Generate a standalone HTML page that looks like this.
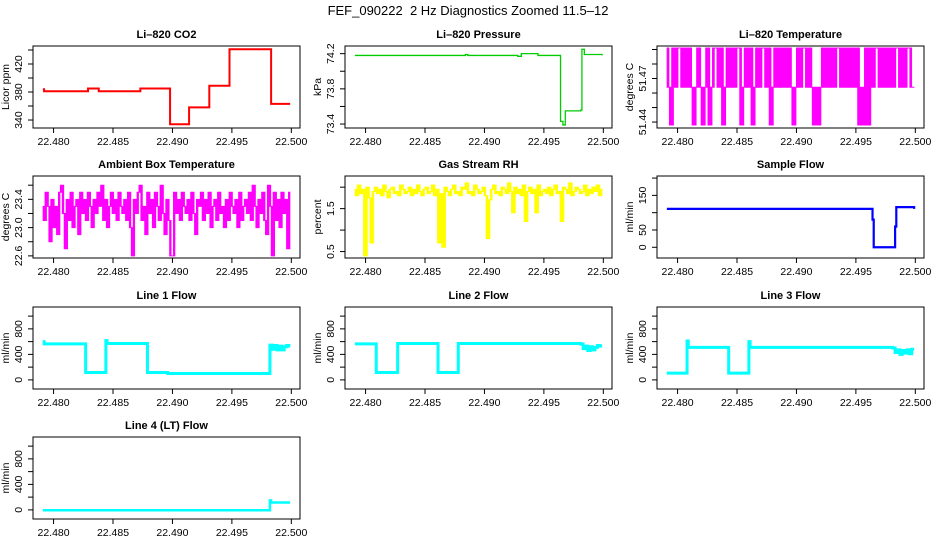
<!DOCTYPE html>
<html><head><meta charset="utf-8"><style>
body{margin:0;background:#fff;}
svg{display:block;font-family:"Liberation Sans",sans-serif;}
</style></head><body>
<svg id="c" width="936" height="540" viewBox="0 0 936 540">
<rect width="936" height="540" fill="#fff"/>
<text x="468" y="15" text-anchor="middle" font-size="13" style="white-space:pre">FEF_090222  2 Hz Diagnostics Zoomed 11.5–12</text>
</svg>
<script>
const xTicks=[22.480,22.485,22.490,22.495,22.500];
const xTickLabels=["22.480","22.485","22.490","22.495","22.500"];

const co2T=[22.4791,22.4792,22.4829,22.4838,22.4873,22.4898,22.4914,22.4931,22.4948,22.4983,22.4999];
const co2V=[384,381,385,381,385,334,358,389,441,363,363];

const presT=[22.4791,22.4884,22.4886,22.4920,22.4928,22.4931,22.4945,22.4964,22.4966,22.4968,22.4981,22.4982,22.4984,22.4999];
const presV=[74.18,74.19,74.18,74.18,74.17,74.20,74.18,73.43,73.39,73.55,73.56,74.25,74.19,74.18];

const tempV=[51.491,51.464,51.438,51.491,51.464,51.491,51.491,51.464,51.491,51.464,51.491,51.464,51.438,51.464,51.491,51.464,51.438,51.464,51.491,51.438,51.464,51.491,51.491,51.464,51.491,51.438,51.464,51.491,51.464,51.491,51.464,51.491,51.491,51.438,51.464,51.491,51.464,51.491,51.438,51.464,51.491,51.464,51.491,51.491,51.464,51.491,51.438,51.464,51.491,51.464,51.491,51.464,51.491,51.464,51.491,51.464,51.438,51.464,51.491,51.464,51.491,51.491,51.464,51.491,51.464,51.438,51.464,51.438,51.464,51.491,51.464,51.491,51.464,51.491,51.464,51.491,51.491,51.464,51.491,51.464,51.491,51.464,51.491,51.464,51.491,51.438,51.464,51.438,51.491,51.438,51.491,51.464,51.491,51.491,51.464,51.491,51.464,51.491,51.464,51.491,51.464,51.491,51.491,51.464,51.491,51.464,51.491,51.491,51.464,51.464];

const ambV=[23.3,23.1,23.5,23.3,22.8,23.4,23.0,23.3,22.9,23.5,23.6,23.2,22.7,23.4,23.1,23.5,23.0,23.3,23.4,22.9,23.5,23.2,23.4,23.1,23.5,23.3,23.0,23.4,23.2,23.5,23.3,23.6,23.1,23.4,23.0,23.3,23.5,23.2,23.4,23.1,23.5,23.3,23.2,23.4,23.1,23.5,23.0,22.6,23.4,23.2,23.5,23.6,23.1,23.3,22.9,23.5,23.2,23.4,23.0,23.5,23.3,23.1,23.6,23.2,22.9,23.4,23.1,22.6,22.6,23.5,23.2,23.4,23.1,23.5,23.3,23.2,23.4,23.1,23.5,23.2,22.9,23.4,23.3,23.5,23.1,23.4,23.2,23.5,23.0,23.3,23.4,23.1,23.5,23.2,23.3,23.0,23.4,23.1,23.5,23.3,23.2,23.4,23.0,23.5,23.1,23.3,23.4,23.2,23.5,23.1,23.6,23.3,23.0,23.4,23.2,23.5,23.1,22.9,23.6,23.3,22.6,23.5,23.1,23.4,23.0,23.5,23.2,23.4,22.7,23.5];

const rhV=[1.95,1.8,2.05,1.85,1.95,0.4,2.0,1.75,0.7,1.9,2.0,1.85,1.95,1.8,2.05,1.9,1.75,1.95,2.0,1.85,1.9,1.8,2.05,1.95,1.85,1.9,2.0,1.8,1.95,1.85,2.05,1.9,1.8,1.95,2.0,1.85,1.9,2.05,1.8,1.95,0.7,1.85,0.6,2.0,1.9,1.8,1.95,2.05,1.85,1.9,1.8,2.0,1.95,2.1,1.85,1.9,1.8,2.05,1.95,1.85,1.9,2.0,1.8,0.8,1.7,1.95,2.05,1.85,1.9,1.8,2.0,1.95,1.85,2.1,1.9,1.4,2.0,1.85,1.95,1.8,2.05,1.2,1.9,2.0,1.85,1.95,1.4,2.05,1.8,1.9,1.95,1.85,2.0,1.8,1.95,2.05,1.85,1.9,1.2,2.0,1.95,1.85,2.1,1.8,1.9,2.0,1.95,1.85,1.9,2.05,1.8,1.95,1.85,2.0,1.9,2.05,1.8,1.95];

const sfT=[22.4791,22.4964,22.4965,22.4982,22.4983,22.4984,22.4999];
const sfV=[111,80,0,0,60,116,111];

const l1T=[22.4791,22.4792,22.4827,22.4844,22.4845,22.4879,22.4896,22.4982,22.4984,22.4986,22.4988,22.4990,22.4992,22.4994,22.4996,22.4998,22.4999];
const l1V=[600,565,115,615,570,115,100,545,480,540,470,530,470,520,540,530,530];
const l2T=[22.4791,22.4809,22.4827,22.4861,22.4878,22.4981,22.4983,22.4985,22.4987,22.4989,22.4991,22.4993,22.4995,22.4997,22.4999];
const l2V=[565,115,570,115,570,560,490,530,460,520,470,510,540,530,530];
const l3T=[22.4791,22.4808,22.4809,22.4843,22.4860,22.4861,22.4981,22.4983,22.4985,22.4987,22.4989,22.4991,22.4993,22.4995,22.4997,22.4999];
const l3V=[105,610,510,105,600,510,500,430,470,400,460,420,470,410,480,480];
const l4T=[22.4791,22.4982,22.4983,22.4999];
const l4V=[-5,150,115,115];

const NS="http://www.w3.org/2000/svg";
const svg=document.getElementById('c');
const X0=22.47827,X1=22.50073,T0=22.4791,T1=22.4999;
const colLeft=[33,345,657],rowTop=[46,176,307,437],BW=267,BH=82;
function mk(tag,attrs,parent){const e=document.createElementNS(NS,tag);for(const k in attrs)e.setAttribute(k,attrs[k]);(parent||svg).appendChild(e);return e;}
function sx(c,t){return colLeft[c]+(t-X0)/(X1-X0)*BW;}
function sy(r,d,v){return rowTop[r]+BH-(v-d[0])/(d[1]-d[0])*BH;}

function panel(c,r,name,title,ylab,dom,yt,yl){
  const g=mk('g',{});
  
  
  const L=colLeft[c],T=rowTop[r];
  const tt=mk('text',{x:L+BW/2,y:T-8,'text-anchor':'middle','font-size':11,'font-weight':'bold'},g);tt.textContent=title;
  
  
  const bx=mk('rect',{x:L,y:T,width:BW,height:BH,fill:'none',stroke:'#000','stroke-width':1},g);
  
  
  xTicks.forEach((t,i)=>{const x=sx(c,t);
    mk('line',{x1:x,x2:x,y1:T+BH,y2:T+BH+5,stroke:'#000'},g);
    const tx=mk('text',{x:x,y:T+BH+17,'text-anchor':'middle','font-size':10.5},g);tx.textContent=xTickLabels[i];
    
    });
  yt.forEach((v,i)=>{const y=sy(r,dom,v);
    mk('line',{x1:L-5,x2:L,y1:y,y2:y,stroke:'#000'},g);
    if(yl[i]){const tx=mk('text',{x:0,y:0,'text-anchor':'middle','font-size':10.5,transform:`translate(${L-11},${y}) rotate(-90)`},g);tx.textContent=yl[i];
    
    }});
  const yt2=mk('text',{x:0,y:0,'text-anchor':'middle','font-size':10.5,transform:`translate(${L-24},${T+BH/2}) rotate(-90)`},g);yt2.textContent=ylab;
  
  
  return g;
}
function stepLine(c,r,dom,ts,vs,color,w,name,g){
  let d='';
  for(let i=0;i<ts.length;i++){const x=sx(c,ts[i]),y=sy(r,dom,vs[i]);
    if(i===0)d+=`M${x},${y}`;else{d+=`H${x}V${y}`;}}
  const p=mk('path',{d:d,fill:'none',stroke:color,'stroke-width':w},g);
  
  
}
function noiseLine(c,r,dom,vs,color,name,g){
  const n=vs.length;
  const dx=(sx(c,T1)-sx(c,T0))/(n-1);
  let d='';
  for(let i=1;i<n;i++){const t=T0+(T1-T0)*i/(n-1);const x=sx(c,t)-dx/2;
    const y1=sy(r,dom,vs[i-1]),y2=sy(r,dom,vs[i]);
    d+=`M${x},${Math.min(y1,y2)-0.5}V${Math.max(y1,y2)+0.5}`;}
  const p=mk('path',{d:d,fill:'none',stroke:color,'stroke-width':dx+0.4},g);
  
  
}
const lineDom=[-143,1143],lineTicks=[0,200,400,600,800,1000],lineLabels=["0","","400","","800",""];
let g;
g=panel(0,0,'co2','Li–820 CO2','Licor ppm',[328.6,445.7],[340,360,380,400,420,440],["340","","380","","420",""]);
stepLine(0,0,[328.6,445.7],co2T,co2V,'#ff0000',2,'co2-line',g);
g=panel(1,0,'pressure','Li–820 Pressure','kPa',[73.355,74.287],[73.4,73.6,73.8,74.0,74.2],["73.4","","73.8","","74.2"]);
stepLine(1,0,[73.355,74.287],presT,presV,'#00cc00',1.3,'pressure-line',g);
g=panel(2,0,'li820-temp','Li–820 Temperature','degrees C',[51.4359,51.4924],[51.44,51.45,51.46,51.47,51.48,51.49],["51.44","","","51.47","",""]);
noiseLine(2,0,[51.4359,51.4924],tempV,'#ff00ff','li820-temp-line',g);
g=panel(0,1,'ambient-temp','Ambient Box Temperature','degrees C',[22.57,23.73],[22.6,22.8,23.0,23.2,23.4,23.6],["22.6","","23.0","","23.4",""]);
noiseLine(0,1,[22.57,23.73],ambV,'#ff00ff','ambient-temp-line',g);
g=panel(1,1,'rh','Gas Stream RH','percent',[0.35,2.26],[0.5,1.0,1.5,2.0],["0.5","","1.5",""]);
noiseLine(1,1,[0.35,2.26],rhV,'#ffff00','rh-line',g);
g=panel(2,1,'sample-flow','Sample Flow','ml/min',[-31,206],[0,50,100,150,200],["0","50","","150",""]);
stepLine(2,1,[-31,206],sfT,sfV,'#0000ff',2.2,'sample-flow-line',g);
g=panel(0,2,'line1-flow','Line 1 Flow','ml/min',lineDom,lineTicks,lineLabels);
stepLine(0,2,lineDom,l1T,l1V,'#00ffff',3,'line1-flow-line',g);
g=panel(1,2,'line2-flow','Line 2 Flow','ml/min',lineDom,lineTicks,lineLabels);
stepLine(1,2,lineDom,l2T,l2V,'#00ffff',3,'line2-flow-line',g);
g=panel(2,2,'line3-flow','Line 3 Flow','ml/min',lineDom,lineTicks,lineLabels);
stepLine(2,2,lineDom,l3T,l3V,'#00ffff',3,'line3-flow-line',g);
g=panel(0,3,'line4-flow','Line 4 (LT) Flow','ml/min',lineDom,lineTicks,lineLabels);
stepLine(0,3,lineDom,l4T,l4V,'#00ffff',2.5,'line4-flow-line',g);
</script>
</body></html>
